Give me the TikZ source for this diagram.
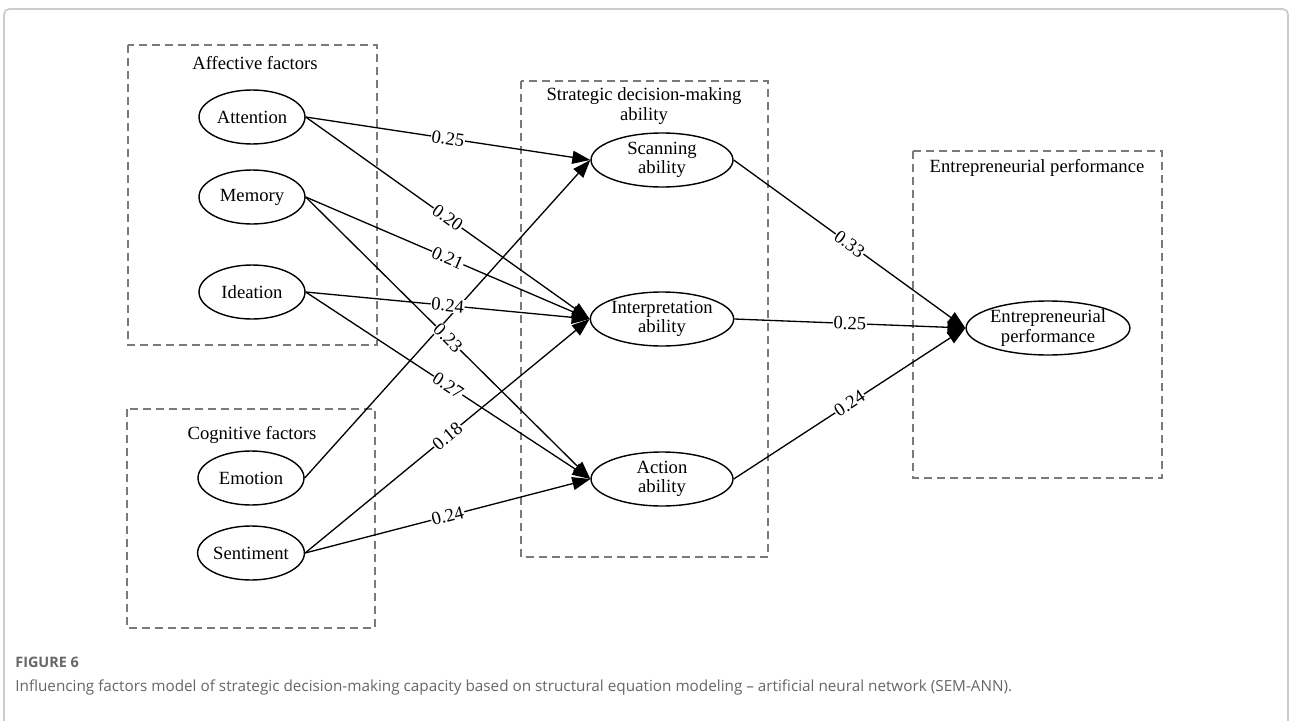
\documentclass[tikz,border=0pt]{standalone}
\usepackage{fontspec}
\setmainfont{Liberation Serif}
\newfontfamily\captionfont{Open Sans}
\usepackage{xcolor}
\usepackage{tikz}
\usetikzlibrary{positioning}
\usetikzlibrary{arrows.meta}
\usetikzlibrary{shapes.geometric}
\definecolor{boxgray}{HTML}{7A7A7A}
\definecolor{framegray}{HTML}{CCCCCC}
\definecolor{captiongray}{HTML}{666666}
\newcommand{\diagfont}{\fontsize{10.6}{10.9}\selectfont}

\begin{document}
\begin{tikzpicture}[
x=0.02cm, y=-0.02cm,
factornode/.style={ellipse, draw, line width=0.8pt, minimum width=2.12cm, minimum height=1.08cm, inner sep=0pt, font=\diagfont},
abilitynode/.style={ellipse, draw, line width=0.8pt, minimum width=2.84cm, minimum height=1.08cm, inner sep=0pt, align=center, font=\diagfont},
groupbox/.style={draw=boxgray, line width=0.6pt, dash pattern=on 0.16cm off 0.1cm},
grouptitle/.style={align=center, inner sep=0pt, font=\diagfont},
pathline/.style={-{Triangle[length=0.36cm, width=0.26cm]}, line width=0.75pt},
coefflabel/.style={fill=white, inner sep=0.4pt, sloped, font=\diagfont},
]
\useasboundingbox (0,0) rectangle (1290,720);
\draw[framegray, line width=1pt, rounded corners=3pt] (4,9) rectangle (1288,740);

%Boxes
\draw[groupbox] (128,45) rectangle (377,345);
\draw[groupbox] (127,409) rectangle (375,628);
\draw[groupbox] (521,81) rectangle (768,557);
\draw[groupbox] (913,151) rectangle (1162,478);

%Titles
\node[grouptitle]		(afftitle)		at (255,63)		{Affective factors};
\node[grouptitle]		(cogtitle)		at (252,435)	{Cognitive factors};
\node[grouptitle]		(strtitle)		at (644,106)	{Strategic decision-making\\ability};
\node[grouptitle]		(enttitle)		at (1037,168)	{Entrepreneurial performance};

%Nodes
\node[factornode]		(attention)		at (252,117)	{Attention};
\node[factornode]		(memory)		at (252,197)	{Memory};
\node[factornode]		(ideation)		at (252,292)	{Ideation};
\node[factornode]		(emotion)		at (251,478)	{Emotion};
\node[factornode]		(sentiment)		at (251,553)	{Sentiment};
\node[abilitynode]		(scanning)		at (662,160)	{Scanning\\ability};
\node[abilitynode]		(interpret)		at (662,319)	{Interpretation\\ability};
\node[abilitynode]		(action)		at (662,479)	{Action\\ability};
\node[abilitynode]		(perform)		at (1048,328)	{Entrepreneurial\\performance};

%Lines
\draw[pathline] (emotion.east) -- (scanning.west);
\draw[pathline] (attention.east) -- node[coefflabel] {0.25} (scanning.west);
\draw[pathline] (attention.east) -- node[coefflabel] {0.20} (interpret.west);
\draw[pathline] (memory.east) -- node[coefflabel] {0.21} (interpret.west);
\draw[pathline] (memory.east) -- node[coefflabel] {0.23} (action.west);
\draw[pathline] (ideation.east) -- node[coefflabel] {0.24} (interpret.west);
\draw[pathline] (ideation.east) -- node[coefflabel] {0.27} (action.west);
\draw[pathline] (sentiment.east) -- node[coefflabel] {0.18} (interpret.west);
\draw[pathline] (sentiment.east) -- node[coefflabel] {0.24} (action.west);
\draw[pathline] (scanning.east) -- node[coefflabel] {0.33} (perform.west);
\draw[pathline] (interpret.east) -- node[coefflabel] {0.25} (perform.west);
\draw[pathline] (action.east) -- node[coefflabel] {0.24} (perform.west);

%Caption
\node[anchor=west, inner sep=0pt, text=captiongray, font=\captionfont\fontsize{8.2}{9}\selectfont\bfseries] (figlabel) at (15,662) {FIGURE 6};
\node[anchor=west, inner sep=0pt, text=captiongray, font=\captionfont\fontsize{8.7}{10}\selectfont] (figcaption) at (15,687) {Influencing factors model of strategic decision-making capacity based on structural equation modeling – artificial neural network (SEM-ANN).};
\end{tikzpicture}
\end{document}
